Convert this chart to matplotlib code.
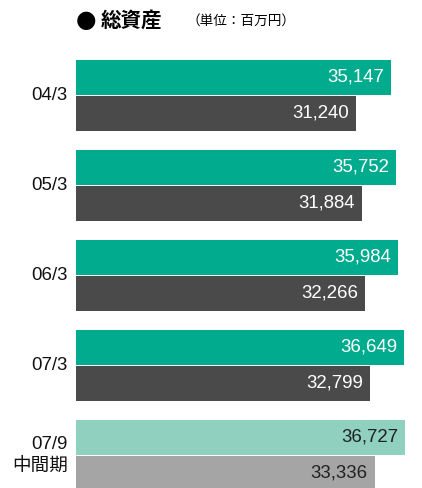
import matplotlib.pyplot as plt

periods = ['04/3', '05/3', '06/3', '07/3', '07/9\n中間期']
total_assets = [35147, 35752, 35984, 36649, 36727]
equity = [31240, 31884, 32266, 32799, 33336]

top_colors = ['#00ab8e'] * 4 + ['#8fd0be']
bottom_colors = ['#4a4a4a'] * 4 + ['#a5a5a5']
text_colors = ['white'] * 4 + ['#222222']

plt.rcParams['font.family'] = ['Liberation Sans', 'Noto Sans CJK JP', 'DejaVu Sans']

W, H = 422, 488
fig = plt.figure(figsize=(W / 100, H / 100), dpi=100)
# axes from x=76px to right edge, full height
ax = fig.add_axes([76 / W, 0, 1 - 76 / W, 1])

px_per_unit = 35 / 3907.0
ax.set_xlim(0, (W - 76) / px_per_unit)
pitch = 90.0
y0 = 95.5
ax.set_ylim((H - y0) / pitch, (0 - y0) / pitch)

bh = 35 / pitch
gap = 0.5 / pitch
for i, p in enumerate(periods):
    ax.barh(i - gap - bh / 2, total_assets[i], height=bh, color=top_colors[i], linewidth=0)
    ax.barh(i + gap + bh / 2, equity[i], height=bh, color=bottom_colors[i], linewidth=0)
    pad = 7 / px_per_unit
    ax.text(total_assets[i] - pad, i - gap - bh / 2, f'{total_assets[i]:,}',
            ha='right', va='center', color=text_colors[i], fontsize=13.4)
    ax.text(equity[i] - pad, i + gap + bh / 2, f'{equity[i]:,}',
            ha='right', va='center', color=text_colors[i], fontsize=13.4)
    ax.text(-8 / px_per_unit, i, p, ha='right', va='center', fontsize=13.4,
            color='#111111', linespacing=1.35, clip_on=False)

ax.axis('off')

fig.text(76 / W, 1 - 20 / H, '●', fontsize=17, va='center', ha='left',
         family=['DejaVu Sans'])
fig.text(101 / W, 1 - 20 / H, '総資産', fontsize=14.8, va='center', ha='left',
         family=['Noto Sans CJK JP'], fontweight='bold')
fig.text(186 / W, 1 - 21 / H, '（単位：百万円）', fontsize=9.8, va='center', ha='left',
         family=['Noto Sans CJK JP'])

fig.savefig('out.png', dpi=100)
